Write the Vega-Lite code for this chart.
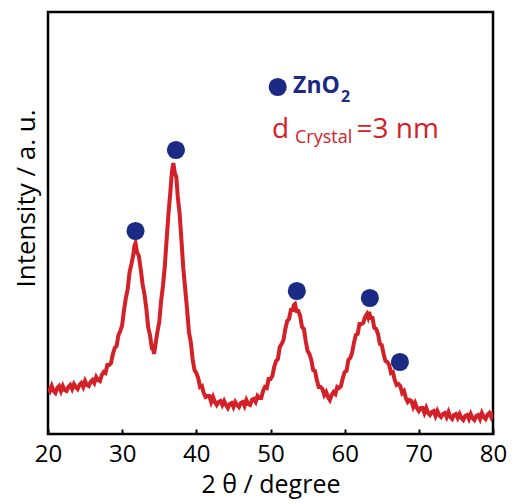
{
  "$schema": "https://vega.github.io/schema/vega-lite/v6.json",
  "width": 445,
  "height": 422,
  "autosize": {"type": "none"},
  "padding": {"left": 48, "top": 12, "right": 26, "bottom": 70},
  "background": "white",
  "config": {
    "view": {"stroke": "black", "strokeWidth": 2.5},
    "font": "Open Sans"
  },
  "datasets": {
    "xrd": [
      {"t":20,"i":46},{"t":20.25,"i":43},{"t":20.5,"i":48},{"t":20.75,"i":43},{"t":21,"i":41},{"t":21.25,"i":46},{"t":21.5,"i":48},{"t":21.75,"i":43},
      {"t":22,"i":48},{"t":22.25,"i":44},{"t":22.5,"i":43},{"t":22.75,"i":47},{"t":23,"i":49},{"t":23.25,"i":45},{"t":23.5,"i":50},{"t":23.75,"i":47},
      {"t":24,"i":45},{"t":24.25,"i":49},{"t":24.5,"i":51},{"t":24.75,"i":47},{"t":25,"i":53},{"t":25.25,"i":49},{"t":25.5,"i":48},{"t":25.75,"i":52},
      {"t":26,"i":54},{"t":26.25,"i":51},{"t":26.5,"i":57},{"t":26.75,"i":54},{"t":27,"i":53},{"t":27.25,"i":59},{"t":27.5,"i":62},{"t":27.75,"i":61},
      {"t":28,"i":69},{"t":28.25,"i":69},{"t":28.5,"i":71},{"t":28.75,"i":80},{"t":29,"i":86},{"t":29.25,"i":88},{"t":29.5,"i":99},{"t":29.75,"i":103},
      {"t":30,"i":109},{"t":30.25,"i":124},{"t":30.5,"i":136},{"t":30.75,"i":145},{"t":31,"i":162},{"t":31.25,"i":170},{"t":31.5,"i":179},{"t":31.65,"i":188},
      {"t":31.8,"i":191},{"t":32,"i":182},{"t":32.25,"i":178},{"t":32.5,"i":165},{"t":32.75,"i":150},{"t":33,"i":140},{"t":33.25,"i":126},{"t":33.5,"i":107},
      {"t":33.75,"i":99},{"t":34,"i":86},{"t":34.15,"i":86},{"t":34.3,"i":80},{"t":34.5,"i":90},{"t":34.75,"i":102},{"t":35,"i":112},{"t":35.25,"i":133},
      {"t":35.5,"i":148},{"t":35.75,"i":168},{"t":36,"i":195},{"t":36.25,"i":221},{"t":36.5,"i":242},{"t":36.7,"i":262},{"t":36.9,"i":271},{"t":37.1,"i":261},
      {"t":37.3,"i":257},{"t":37.5,"i":237},{"t":37.75,"i":220},{"t":38,"i":193},{"t":38.25,"i":165},{"t":38.5,"i":145},{"t":38.75,"i":125},{"t":39,"i":102},
      {"t":39.25,"i":92},{"t":39.5,"i":75},{"t":39.75,"i":64},{"t":40,"i":61},{"t":40.25,"i":56},{"t":40.5,"i":47},{"t":40.75,"i":48},{"t":41,"i":41},
      {"t":41.25,"i":37},{"t":41.5,"i":38},{"t":41.75,"i":38},{"t":42,"i":32},{"t":42.25,"i":37},{"t":42.5,"i":32},{"t":42.75,"i":29},{"t":43,"i":32},
      {"t":43.25,"i":33},{"t":43.5,"i":29},{"t":43.75,"i":33},{"t":44,"i":29},{"t":44.25,"i":26},{"t":44.5,"i":30},{"t":44.75,"i":31},{"t":45,"i":27},
      {"t":45.25,"i":32},{"t":45.5,"i":29},{"t":45.75,"i":27},{"t":46,"i":31},{"t":46.25,"i":32},{"t":46.5,"i":28},{"t":46.75,"i":34},{"t":47,"i":30},
      {"t":47.25,"i":29},{"t":47.5,"i":34},{"t":47.75,"i":35},{"t":48,"i":32},{"t":48.25,"i":38},{"t":48.5,"i":36},{"t":48.75,"i":36},{"t":49,"i":43},
      {"t":49.25,"i":47},{"t":49.5,"i":46},{"t":49.75,"i":55},{"t":50,"i":55},{"t":50.25,"i":58},{"t":50.5,"i":67},{"t":50.75,"i":73},{"t":51,"i":75},
      {"t":51.25,"i":87},{"t":51.5,"i":90},{"t":51.75,"i":94},{"t":52,"i":105},{"t":52.25,"i":113},{"t":52.5,"i":115},{"t":52.75,"i":124},{"t":53,"i":124},
      {"t":53.15,"i":129},{"t":53.3,"i":130},{"t":53.5,"i":123},{"t":53.75,"i":123},{"t":54,"i":118},{"t":54.25,"i":107},{"t":54.5,"i":105},{"t":54.75,"i":93},
      {"t":55,"i":83},{"t":55.25,"i":80},{"t":55.5,"i":74},{"t":55.75,"i":64},{"t":56,"i":63},{"t":56.25,"i":54},{"t":56.5,"i":47},{"t":56.75,"i":47},
      {"t":57,"i":45},{"t":57.25,"i":39},{"t":57.5,"i":42},{"t":57.75,"i":37},{"t":58,"i":34},{"t":58.25,"i":39},{"t":58.5,"i":42},{"t":58.75,"i":40},
      {"t":59,"i":47},{"t":59.25,"i":46},{"t":59.5,"i":48},{"t":59.75,"i":56},{"t":60,"i":62},{"t":60.25,"i":63},{"t":60.5,"i":74},{"t":60.75,"i":76},
      {"t":61,"i":81},{"t":61.25,"i":91},{"t":61.5,"i":99},{"t":61.75,"i":100},{"t":62,"i":110},{"t":62.25,"i":110},{"t":62.5,"i":111},{"t":62.75,"i":117},
      {"t":63,"i":120},{"t":63.15,"i":117},{"t":63.3,"i":122},{"t":63.5,"i":116},{"t":63.75,"i":116},{"t":64,"i":106},{"t":64.25,"i":105},{"t":64.5,"i":100},
      {"t":64.75,"i":90},{"t":65,"i":89},{"t":65.25,"i":80},{"t":65.5,"i":73},{"t":65.75,"i":72},{"t":66,"i":69},{"t":66.25,"i":61},{"t":66.5,"i":62},
      {"t":66.75,"i":54},{"t":67,"i":49},{"t":67.25,"i":50},{"t":67.5,"i":48},{"t":67.75,"i":41},{"t":68,"i":43},{"t":68.25,"i":36},{"t":68.5,"i":32},
      {"t":68.75,"i":34},{"t":69,"i":33},{"t":69.25,"i":27},{"t":69.5,"i":31},{"t":69.75,"i":26},{"t":70,"i":23},{"t":70.25,"i":26},{"t":70.5,"i":26},
      {"t":70.75,"i":21},{"t":71,"i":26},{"t":71.25,"i":21},{"t":71.5,"i":19},{"t":71.75,"i":22},{"t":72,"i":23},{"t":72.25,"i":18},{"t":72.5,"i":23},
      {"t":72.75,"i":19},{"t":73,"i":17},{"t":73.25,"i":20},{"t":73.5,"i":21},{"t":73.75,"i":17},{"t":74,"i":22},{"t":74.25,"i":17},{"t":74.5,"i":15},
      {"t":74.75,"i":19},{"t":75,"i":20},{"t":75.25,"i":16},{"t":75.5,"i":20},{"t":75.75,"i":16},{"t":76,"i":14},{"t":76.25,"i":18},{"t":76.5,"i":19},
      {"t":76.75,"i":15},{"t":77,"i":20},{"t":77.25,"i":16},{"t":77.5,"i":14},{"t":77.75,"i":18},{"t":78,"i":19},{"t":78.25,"i":15},{"t":78.5,"i":21},
      {"t":78.75,"i":17},{"t":79,"i":15},{"t":79.25,"i":19},{"t":79.5,"i":21},{"t":79.75,"i":17},{"t":80,"i":22}
    ],
    "markers": [
      {"t": 31.8, "i": 203}, {"t": 37.25, "i": 284}, {"t": 53.55, "i": 143}, {"t": 63.4, "i": 136}, {"t": 67.45, "i": 72}, {"t": 50.97, "i": 347}
    ]
  },
  "layer": [
    {
      "data": {"name": "xrd"},
      "mark": {"type": "line", "color": "#d42027", "strokeWidth": 4, "clip": true},
      "encoding": {
        "x": {
          "field": "t", "type": "quantitative",
          "scale": {"domain": [20, 80], "nice": false, "zero": false},
          "axis": {
            "title": "2 θ / degree", "values": [20, 30, 40, 50, 60, 70, 80],
            "tickSize": -5, "tickColor": "black", "tickWidth": 2,
            "domain": false, "grid": false, "labelFlush": false, "labelOverlap": false,
            "labelFontSize": 24, "labelColor": "black", "labelPadding": 13, "labelFont": "Open Sans",
            "titleFontSize": 25, "titleFontWeight": "normal", "titleColor": "black", "titlePadding": 6, "titleFont": "Open Sans"
          }
        },
        "y": {
          "field": "i", "type": "quantitative",
          "scale": {"domain": [0, 422], "nice": false},
          "axis": {
            "title": "Intensity / a. u.", "labels": false, "ticks": false, "domain": false, "grid": false,
            "titleFontSize": 26, "titleFontWeight": "normal", "titleColor": "black", "titlePadding": 9, "titleFont": "Open Sans",
            "titleY": 186
          }
        }
      }
    },
    {
      "data": {"name": "markers"},
      "mark": {"type": "circle", "color": "#1b2a85", "opacity": 1, "size": 330},
      "encoding": {
        "x": {"field": "t", "type": "quantitative"},
        "y": {"field": "i", "type": "quantitative"}
      }
    },
    {
      "data": {"values": [{"t": 53.05, "i": 341, "label": "ZnO"}]},
      "mark": {"type": "text", "align": "left", "baseline": "alphabetic", "fontSize": 23, "fontWeight": "bold", "color": "#1b2a85", "font": "Open Sans"},
      "encoding": {
        "x": {"field": "t", "type": "quantitative"},
        "y": {"field": "i", "type": "quantitative"},
        "text": {"field": "label"}
      }
    },
    {
      "data": {"values": [{"t": 59.5, "i": 332, "label": "2"}]},
      "mark": {"type": "text", "align": "left", "baseline": "alphabetic", "fontSize": 16, "fontWeight": "bold", "color": "#1b2a85", "font": "Open Sans"},
      "encoding": {
        "x": {"field": "t", "type": "quantitative"},
        "y": {"field": "i", "type": "quantitative"},
        "text": {"field": "label"}
      }
    },
    {
      "data": {"values": [{"t": 50.2, "i": 296, "label": "d"}, {"t": 61.6, "i": 296, "label": "=3 nm"}]},
      "mark": {"type": "text", "align": "left", "baseline": "alphabetic", "fontSize": 28, "color": "#d42027", "font": "Open Sans"},
      "encoding": {
        "x": {"field": "t", "type": "quantitative"},
        "y": {"field": "i", "type": "quantitative"},
        "text": {"field": "label"}
      }
    },
    {
      "data": {"values": [{"t": 53.3, "i": 291, "label": "Crystal"}]},
      "mark": {"type": "text", "align": "left", "baseline": "alphabetic", "fontSize": 18, "color": "#d42027", "font": "Open Sans"},
      "encoding": {
        "x": {"field": "t", "type": "quantitative"},
        "y": {"field": "i", "type": "quantitative"},
        "text": {"field": "label"}
      }
    }
  ]
}
